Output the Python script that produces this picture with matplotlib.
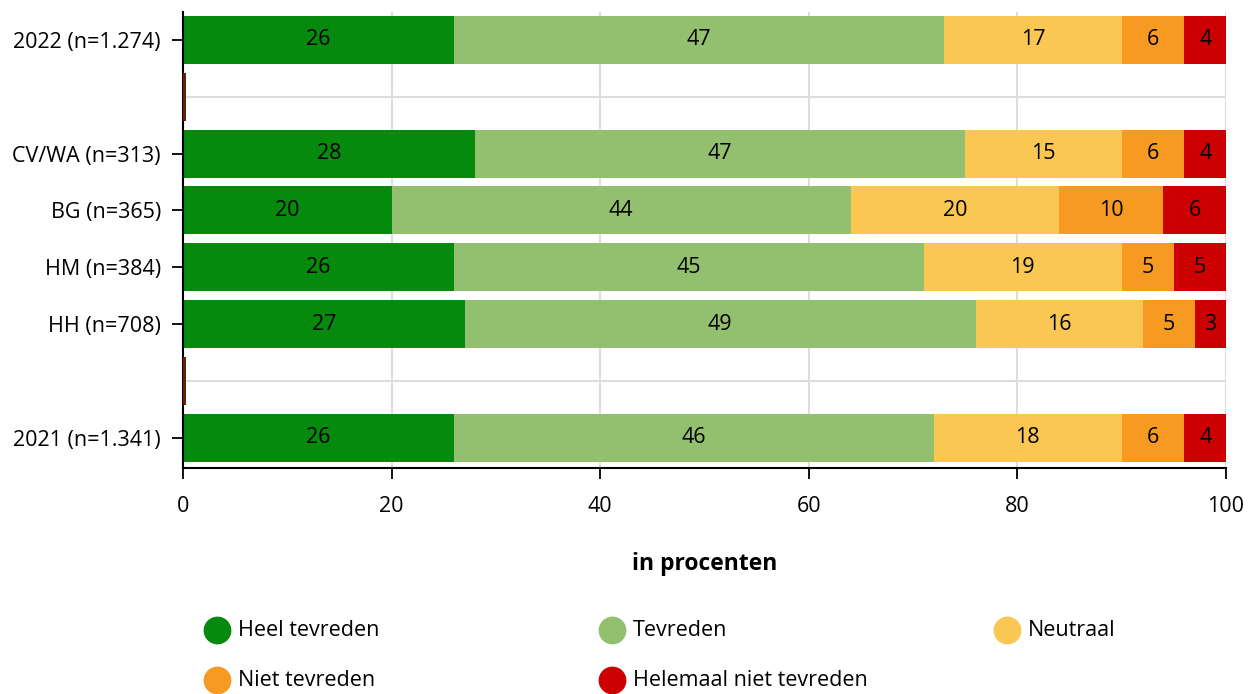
import matplotlib
matplotlib.use("Agg")
import matplotlib.pyplot as plt
from matplotlib.lines import Line2D
import numpy as np

plt.rcParams['font.family'] = ['Open Sans', 'DejaVu Sans']

categories = ["2022 (n=1.274)", "", "CV/WA (n=313)", "BG (n=365)", "HM (n=384)", "HH (n=708)", "", "2021 (n=1.341)"]
heel_tevreden = [26, 0, 28, 20, 26, 27, 0, 26]
tevreden = [47, 0, 47, 44, 45, 49, 0, 46]
neutraal = [17, 0, 15, 20, 19, 16, 0, 18]
niet_tevreden = [6, 0, 6, 10, 5, 5, 0, 6]
helemaal_niet = [4, 0, 4, 6, 5, 3, 0, 4]

series_names = ["Heel tevreden", "Tevreden", "Neutraal", "Niet tevreden", "Helemaal niet tevreden"]
series_values = [heel_tevreden, tevreden, neutraal, niet_tevreden, helemaal_niet]
colors = ["#068a0e", "#92c06e", "#f9c752", "#f79a22", "#cc0000"]

FS = 15.5

fig = plt.figure(figsize=(12.54, 6.94), dpi=100)
ax = fig.add_axes([183 / 1254, 1 - 468 / 694, (1226 - 183) / 1254, (468 - 12) / 694])

y = np.arange(len(categories))
left = np.zeros(len(categories))
for name, vals, col in zip(series_names, series_values, colors):
    vals = np.array(vals, dtype=float)
    ax.barh(y, vals, left=left, height=0.845, color=col, zorder=3)
    for yi, v, l in zip(y, vals, left):
        if v > 0:
            ax.text(l + v / 2, yi, f"{int(v)}", ha="center", va="center",
                    fontsize=FS, color="black", zorder=4)
    left += vals

# empty separator rows carry a hairline marker at zero
for yi, cat in zip(y, categories):
    if cat == "":
        ax.barh(yi, 0.3, left=0, height=0.845, color="#6b1e00", zorder=6)

ax.set_xlim(0, 100)
ax.set_ylim(7.53, -0.49)
ax.set_xticks([0, 20, 40, 60, 80, 100])
ax.set_yticks(y)
ax.set_yticklabels(categories)
ax.tick_params(axis="both", labelsize=FS, length=8, width=1.3, color="black")
ax.tick_params(axis="x", pad=12)
ax.tick_params(axis="y", pad=8)
for t, cat in zip(ax.yaxis.get_major_ticks(), categories):
    if cat == "":
        t.tick1line.set_visible(False)

ax.grid(True, color="#dddddd", linewidth=1.5, zorder=0)
ax.set_axisbelow(True)
for s in ["top", "right"]:
    ax.spines[s].set_visible(False)
for s in ["left", "bottom"]:
    ax.spines[s].set_linewidth(1.5)
    ax.spines[s].set_zorder(5)

ax.set_xlabel("in procenten", fontsize=16.5, fontweight="bold", labelpad=25)

# legend laid out in a 3-column grid
legend_pos = [(217, 630), (612, 630), (1007, 630), (217, 680), (612, 680)]
for (px, py), name, col in zip(legend_pos, series_names, colors):
    fig.add_artist(Line2D([px / 1254], [1 - py / 694], marker="o", markersize=19,
                          color=col, linestyle="none", transform=fig.transFigure))
    fig.text((px + 21) / 1254, 1 - py / 694, name, fontsize=FS, va="center", ha="left")

fig.savefig("out.png", dpi=100)
